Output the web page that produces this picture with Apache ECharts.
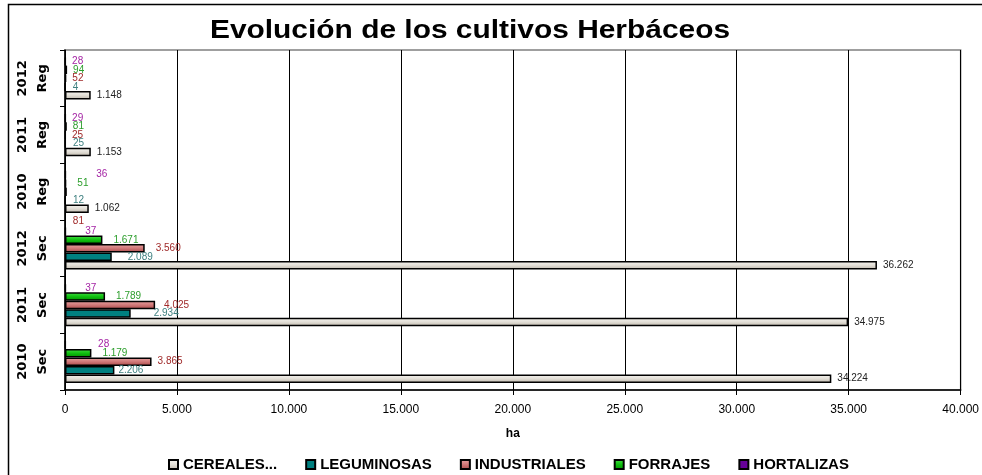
<!DOCTYPE html>
<html>
<head>
<meta charset="utf-8">
<script src="https://cdn.jsdelivr.net/npm/echarts@6/dist/echarts.min.js"></script>
<style>
  html, body { margin: 0; padding: 0; background: #ffffff; }
  #chart { width: 982px; height: 475px; }
</style>
</head>
<body>
<div id="chart"></div>
<script>
// Categories from bottom to top of the vertical axis
const categories = ['2010\nSec', '2011\nSec', '2012\nSec', '2010\nReg', '2011\nReg', '2012\nReg'];

// Hectares per crop group
const cereales     = [34224, 34975, 36262, 1062, 1153, 1148];
const leguminosas  = [2206, 2934, 2089, 12, 25, 4];
const industriales = [3865, 4025, 3560, 81, 25, 52];
const forrajes     = [1179, 1789, 1671, 51, 81, 94];
const hortalizas   = [28, 37, 37, 36, 29, 28];

const seriesNames = ['CEREALES...', 'LEGUMINOSAS', 'INDUSTRIALES', 'FORRAJES', 'HORTALIZAS'];
const xTicks = [0, 5000, 10000, 15000, 20000, 25000, 30000, 35000, 40000];

// Value label nudges [dx, dy] by series and category index
const labelNudge = {
  'LEGUMINOSAS': { 0: [-3, 0], 1: [16, 0], 2: [9, 0] },
  'INDUSTRIALES': { 1: [3, 0], 2: [5, 0], 3: [0, 30] },
  'FORRAJES': { 4: [-5, 0], 5: [-5, 0] },
  'HORTALIZAS': { 0: [26, 0], 1: [13, 0], 2: [13, 0], 3: [24, 0] }
};

const fmt = v => String(v).replace(/\B(?=(\d{3})+(?!\d))/g, '.');

function grad(stops) {
  return new echarts.graphic.LinearGradient(0, 0, 0, 1,
    stops.map((c, i) => ({ offset: i / (stops.length - 1), color: c })));
}

const styles = {
  'CEREALES...':  { color: grad(['#f6f4f0', '#e2ded6', '#bdb6aa']), label: '#222222', dist: 6 },
  'LEGUMINOSAS':  { color: '#008080', label: '#3f8080', dist: 7 },
  'INDUSTRIALES': { color: grad(['#eaa4a4', '#d07878', '#a84848']), label: '#a02a2a', dist: 6 },
  'FORRAJES':     { color: grad(['#48e048', '#10c010', '#009000']), label: '#2c9e2c', dist: 11 },
  'HORTALIZAS':   { color: '#660099', label: '#a424a4', dist: 6 }
};

const valuesByName = {
  'CEREALES...': cereales,
  'LEGUMINOSAS': leguminosas,
  'INDUSTRIALES': industriales,
  'FORRAJES': forrajes,
  'HORTALIZAS': hortalizas
};

// Bars stack from the top of each band downwards, so HORTALIZAS is listed first
const series = seriesNames.slice().reverse().map(name => {
  const st = styles[name];
  const nudges = labelNudge[name] || {};
  return {
    name,
    type: 'bar',
    barGap: '0%',
    barCategoryGap: '25%',
    itemStyle: { color: st.color, borderColor: '#000000', borderWidth: 1.5 },
    label: {
      show: true,
      position: 'right',
      distance: st.dist,
      color: st.label,
      fontFamily: 'Liberation Sans, Arial, sans-serif',
      fontSize: 10,
      formatter: p => fmt(p.value)
    },
    data: valuesByName[name].map((v, i) => nudges[i]
      ? { value: v, label: { offset: nudges[i] } }
      : v)
  };
});

const chart = echarts.init(document.getElementById('chart'), null, { renderer: 'canvas' });
chart.setOption({
  animation: false,
  backgroundColor: '#ffffff',
  graphic: [
    {
      type: 'rect',
      shape: { x: 8.5, y: 4.5, width: 990, height: 490 },
      style: { fill: 'none', stroke: '#000000', lineWidth: 1.5 },
      silent: true
    },
    {
      type: 'text',
      x: 470, y: 31,
      scaleX: 1.15,
      style: {
        text: 'Evolución de los cultivos Herbáceos',
        font: 'bold 26px "Liberation Sans", Arial, sans-serif',
        fill: '#000000',
        textAlign: 'center',
        textVerticalAlign: 'middle'
      }
    }
  ],
  legend: {
    data: seriesNames,
    left: 163,
    top: 452,
    icon: 'rect',
    itemWidth: 9,
    itemHeight: 9,
    itemGap: 28,
    textStyle: {
      fontFamily: 'Liberation Sans, Arial, sans-serif',
      fontWeight: 'bold',
      fontSize: 15,
      color: '#000000'
    }
  },
  grid: {
    left: 65, right: 20, top: 50, bottom: 85,
    show: true,
    borderColor: '#808080',
    borderWidth: 1.5,
    backgroundColor: '#ffffff'
  },
  xAxis: {
    type: 'value',
    min: xTicks[0],
    max: xTicks[xTicks.length - 1],
    interval: xTicks[1] - xTicks[0],
    name: 'ha',
    nameLocation: 'middle',
    nameGap: 38,
    nameTextStyle: {
      fontFamily: 'Liberation Sans, Arial, sans-serif',
      fontWeight: 'bold',
      fontSize: 12,
      color: '#000000'
    },
    axisLine: { show: true, lineStyle: { color: '#000000', width: 1.5 } },
    axisTick: { show: true, length: 5, lineStyle: { color: '#000000' } },
    splitLine: { show: true, lineStyle: { color: '#000000', width: 1 } },
    axisLabel: {
      margin: 14,
      color: '#000000',
      fontFamily: 'Liberation Sans, Arial, sans-serif',
      fontSize: 12,
      formatter: v => fmt(v)
    }
  },
  yAxis: {
    type: 'category',
    data: categories,
    axisLine: { show: true, lineStyle: { color: '#000000', width: 1.5 } },
    axisTick: { show: true, length: 5, lineStyle: { color: '#000000' } },
    axisLabel: {
      rotate: 90,
      margin: 12,
      color: '#000000',
      fontFamily: 'DejaVu Sans, sans-serif',
      fontWeight: 'bold',
      fontSize: 13,
      lineHeight: 20,
      align: 'center'
    }
  },
  series
});
</script>
</body>
</html>
